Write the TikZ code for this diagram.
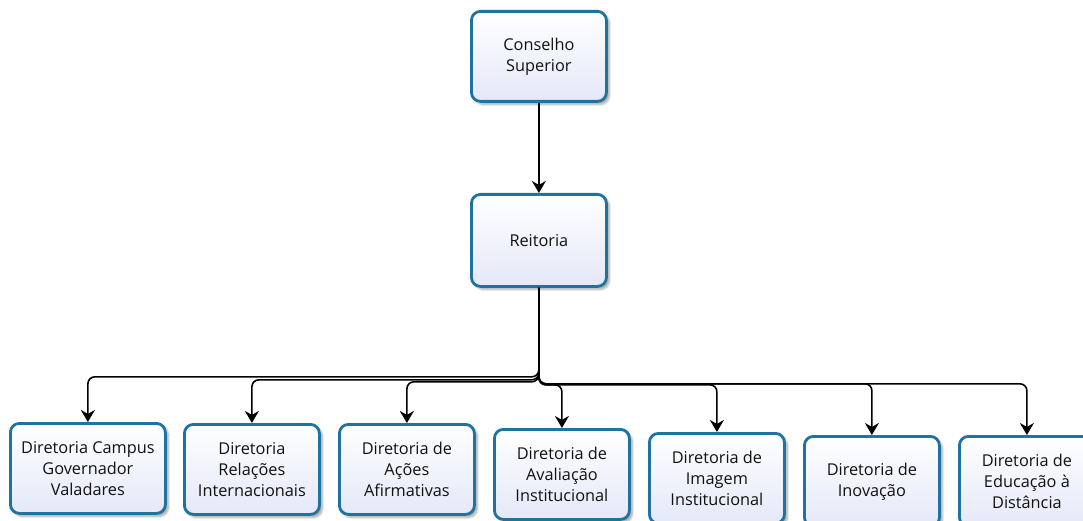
\documentclass[tikz,border=0pt]{standalone}
\usepackage{fontspec}
\setmainfont{Open Sans}
\usetikzlibrary{arrows.meta,shadows.blur}
\definecolor{edge}{HTML}{1F73A0}
\definecolor{boxtop}{HTML}{FFFFFF}
\definecolor{boxbot}{HTML}{E4E8F8}
\definecolor{txt}{HTML}{111111}
\tikzset{
  blk/.style ={draw=edge, line width=2.8pt, rounded corners=9pt,
               top color=boxtop, bottom color=boxbot, text=txt,
               align=center, inner sep=2pt, anchor=north west,
               font=\fontsize{16.3}{21}\selectfont,
               minimum width=135pt, minimum height=90pt,
               blur shadow={shadow xshift=3pt, shadow yshift=-3pt,
                            shadow blur steps=6, shadow opacity=35}},
  ar/.style  ={-{Stealth[length=12pt,width=14pt]}, line width=1.6pt,
               rounded corners=7pt},
}
\begin{document}
\begin{tikzpicture}[x=1pt,y=1pt]
\useasboundingbox (0,0) rectangle (1083,-521);
\node[blk] (cons) at (470,-10) {Conselho\\Superior};
\node[blk, minimum height=92pt] (reit) at (470,-193) {Reitoria};
\node[blk, minimum width=155pt] (dcgv) at (9,-422)
  {Diretoria Campus\\Governador\\Valadares};
\node[blk] (dri) at (183,-423) {Diretoria\\Relações\\Internacionais};
\node[blk] (daa) at (338,-423) {Diretoria de\\Ações\\Afirmativas};
\node[blk] (davi) at (493,-428) {Diretoria de\\Avaliação\\Institucional};
\node[blk] (dii) at (648,-432) {Diretoria de\\Imagem\\Institucional};
\node[blk] (dino) at (803,-435) {Diretoria de\\Inovação};
\node[blk] (dead) at (958,-435) {Diretoria de\\Educação à\\Distância};
\draw[ar] (cons) -- (reit);
\draw[ar] (reit.south) -- ++(0,-89) -| (dcgv.north);
\draw[ar] (reit.south) -- ++(0,-92) -| (dri.north);
\draw[ar] (reit.south) -- ++(0,-94) -| (daa.north);
\draw[ar] (reit.south) -- ++(0,-97) -| (davi.north);
\draw[ar] (reit.south) -- ++(0,-97) -| (dii.north);
\draw[ar] (reit.south) -- ++(0,-96) -| (dino.north);
\draw[ar] (reit.south) -- ++(0,-96) -| (dead.north);
\end{tikzpicture}
\end{document}
